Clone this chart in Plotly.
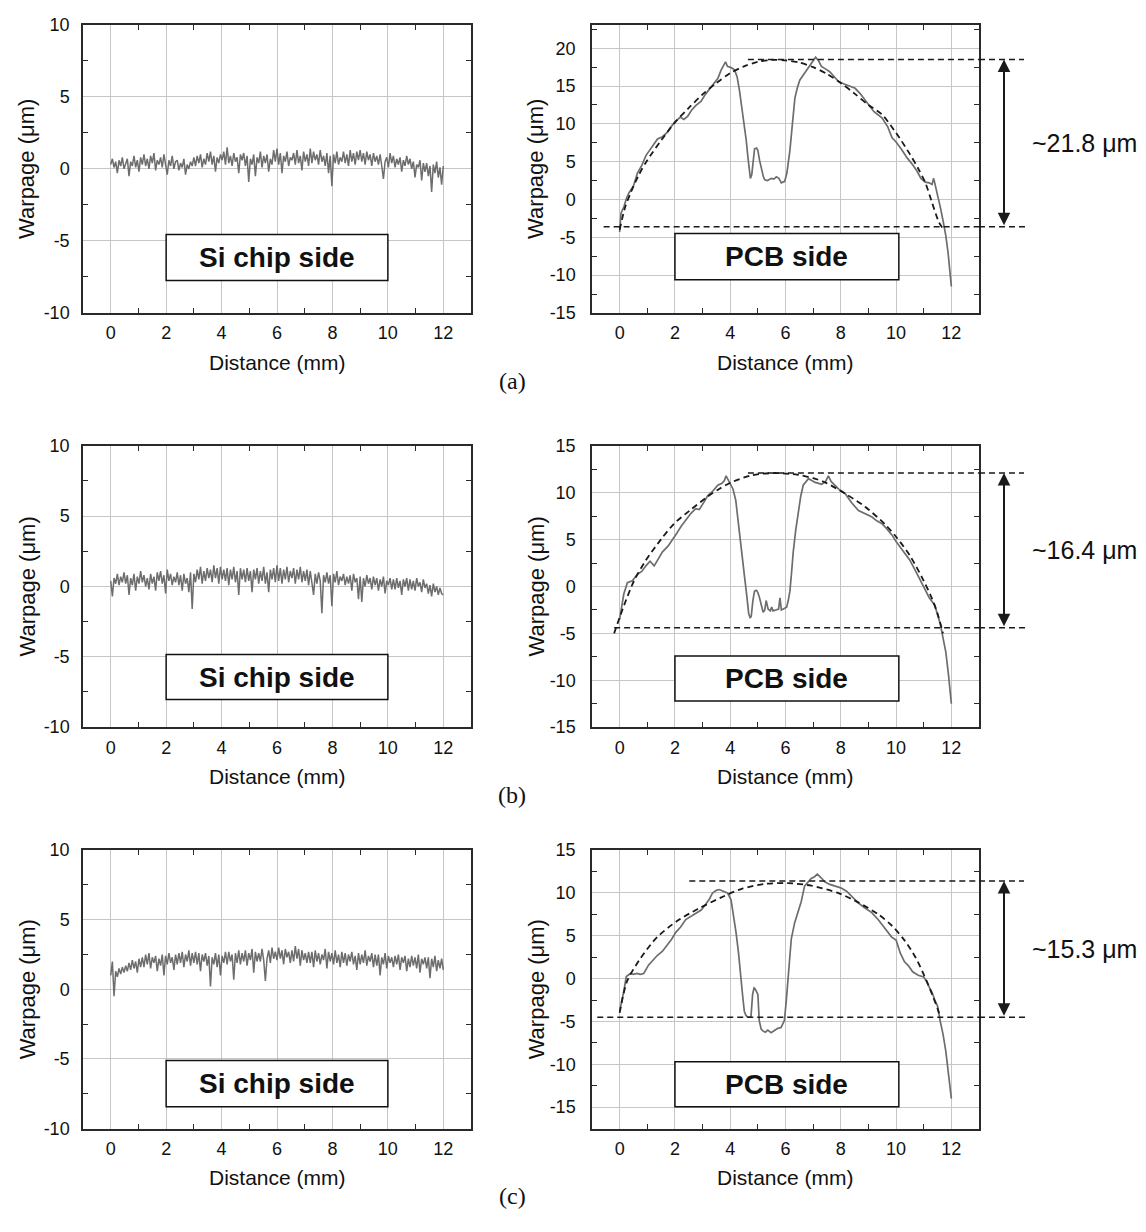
import numpy as np
import plotly.graph_objects as go

W, H = 1146, 1232

# ---------------- data ----------------
# Si chip side profiles: evenly sampled from 0 to 12 mm
si_a = [0.3, 0.7, 0.1, 0.5, -0.3, 0.6, 0.2, 0.8, 0.0, 0.4,
        0.7, -0.5, 0.5, 0.2, 0.9, 0.1, 0.6, -0.2, 0.8, 0.3,
        1.0, 0.2, 0.7, 0.0, 0.9, 0.4, 1.1, -0.1, 0.6, 0.3,
        0.8, 0.1, 1.0, 0.3, -0.4, 0.6, 0.2, 0.9, 0.0, 0.5,
        0.6, -0.1, 0.4, 0.1, 0.7, -0.4, 0.3, 0.0, 0.5, 0.2,
        0.8, 0.2, 0.9, 0.4, 1.0, 0.1, 0.7, 0.3, 1.1, 0.5,
        1.2, 0.3, 0.9, -0.2, 0.8, 0.4, 1.0, 0.6, 1.2, 0.3,
        1.5, 0.4, 0.9, 0.2, 1.1, 0.5, 0.8, -0.3, 1.0, 0.6,
        1.1, 0.2, 0.9, -0.9, 0.7, 0.3, 1.0, -0.5, 0.8, 0.4,
        1.2, 0.1, 0.9, 0.4, 1.0, -0.2, 0.7, 0.3, 1.3, 0.5,
        1.4, 0.3, 1.1, -0.3, 0.9, 0.5, 1.2, 0.2, 0.8, 0.6,
        1.1, 0.3, 1.3, 0.4, 0.9, -0.1, 1.2, 0.5, 1.0, 0.2,
        1.4, 0.4, 1.2, 0.6, 1.0, 0.3, 1.3, 0.5, 0.9, 0.2,
        1.1, -0.3, 0.9, -1.2, 1.0, 0.4, 1.2, 0.3, 0.8, 0.5,
        1.2, 0.4, 1.0, 0.2, 1.3, 0.5, 1.1, 0.3, 1.2, 0.6,
        1.3, 0.5, 1.1, 0.3, 1.2, 0.6, 1.0, 0.2, 1.1, 0.5,
        0.9, 0.3, 1.0, 0.2, -0.7, 0.5, 0.8, 0.1, 1.1, 0.4,
        0.9, 0.1, 0.7, 0.3, 0.8, -0.2, 0.6, 0.2, 0.9, 0.3,
        0.7, 0.0, 0.5, -0.6, 0.3, 0.1, 0.6, -0.8, 0.4, -0.2,
        0.4, -0.5, 0.2, -1.6, 0.3, -0.3, 0.5, -0.6, 0.1, -1.1,
        0.2]

si_b = [0.4, -0.7, 0.6, 0.2, 0.9, 0.1, 0.7, 0.3, 1.0, 0.2,
        0.8, -0.6, 0.6, 0.1, 0.9, -0.3, 0.7, 0.2, 1.1, 0.3,
        0.8, 0.0, 0.6, -0.2, 0.9, 0.2, 0.7, -0.3, 1.0, 0.4,
        1.1, 0.2, 0.8, -0.5, 1.2, 0.4, 0.9, 0.1, 0.7, 0.3,
        1.0, 0.1, 0.8, -0.3, 0.9, 0.2, 0.6, -0.4, 1.0, -1.6,
        0.9, 0.3, 1.2, 0.5, 1.4, 0.2, 1.1, 0.4, 1.3, 0.6,
        1.2, 0.3, 1.5, 0.6, 1.3, 0.2, 1.4, 0.5, 1.2, 0.4,
        1.3, 0.1, 1.2, 0.5, 1.4, 0.3, 1.1, -0.6, 1.3, 0.5,
        1.2, 0.3, 1.3, 0.4, 1.1, -0.4, 1.2, 0.5, 1.3, 0.2,
        1.1, 0.4, 1.4, 0.2, 1.0, -0.4, 1.2, 0.5, 1.3, 0.3,
        1.5, 0.4, 1.3, 0.2, 1.2, 0.5, 1.4, 0.3, 1.1, 0.6,
        1.3, 0.2, 1.2, 0.5, 1.4, 0.3, 1.1, 0.4, 1.2, 0.1,
        1.1, 0.3, -0.6, 0.9, 0.2, 1.0, 0.4, -1.9, 0.8, 0.3,
        1.0, 0.2, 0.8, -1.4, 0.9, 0.3, 1.1, 0.1, 0.7, 0.4,
        0.9, 0.1, 0.7, 0.2, 0.8, -0.3, 0.9, 0.3, 0.6, -0.9,
        0.7, -1.1, 0.6, 0.0, 0.8, 0.2, 0.6, -0.2, 0.7, 0.1,
        0.6, -0.3, 0.5, 0.0, 0.7, -0.5, 0.4, 0.1, 0.6, -0.2,
        0.5, -0.2, 0.6, -0.1, 0.4, -0.6, 0.5, 0.0, 0.6, -0.3,
        0.5, -0.2, 0.4, -0.3, 0.6, 0.0, 0.3, -0.4, 0.5, -0.1,
        0.2, -0.5, 0.1, -0.7, 0.2, -0.4, 0.0, -0.6, -0.1, -0.5,
        -0.6]

si_c = [1.0, 2.0, -0.5, 1.3, 0.9, 1.5, 1.1, 1.6, 1.2, 1.7,
        1.3, 1.9, 1.4, 2.1, 1.5, 2.0, 1.2, 2.2, 1.6, 2.3,
        1.6, 2.5, 1.8, 2.6, 1.5, 2.3, 1.9, 2.4, 1.3, 2.2,
        1.7, 2.5, 1.0, 2.4, 1.8, 2.6, 1.9, 2.3, 1.4, 2.5,
        1.8, 2.6, 1.9, 2.7, 1.6, 2.5, 2.0, 2.8, 1.7, 2.6,
        1.9, 2.7, 1.8, 2.6, 1.3, 2.5, 2.0, 2.6, 1.7, 2.4,
        0.2, 2.3, 1.8, 2.6, 1.6, 2.5, 1.0, 2.4, 1.9, 2.7,
        1.8, 2.7, 2.0, 2.5, 0.7, 2.6, 1.9, 2.8, 1.8, 2.6,
        2.0, 2.8, 1.7, 2.6, 2.1, 2.9, 1.2, 2.7, 2.0, 2.6,
        2.0, 2.9, 2.1, 0.6, 2.2, 2.8, 1.9, 3.0, 2.2, 2.7,
        2.1, 3.0, 2.2, 2.8, 1.8, 2.9, 2.3, 2.7, 1.9, 2.8,
        2.0, 3.1, 2.2, 2.9, 1.7, 2.8, 2.1, 2.6, 1.9, 2.7,
        1.9, 2.7, 1.6, 2.8, 2.0, 2.6, 1.8, 2.5, 2.1, 2.9,
        1.5, 2.7, 2.0, 2.6, 1.8, 2.8, 1.9, 2.5, 1.6, 2.7,
        1.9, 2.6, 1.7, 2.5, 2.0, 2.7, 1.8, 2.4, 1.4, 2.6,
        1.8, 2.5, 1.9, 2.8, 1.7, 2.4, 2.0, 2.6, 1.6, 2.5,
        1.7, 2.5, 1.0, 2.3, 1.8, 2.6, 1.5, 2.4, 1.9, 2.3,
        1.6, 2.4, 1.8, 2.5, 1.4, 2.3, 1.9, 2.4, 1.3, 2.2,
        1.6, 2.4, 1.7, 2.3, 1.5, 2.5, 1.2, 2.2, 1.8, 2.3,
        1.5, 2.3, 0.8, 2.2, 1.6, 2.4, 1.3, 2.1, 1.5, 2.2,
        1.4]

# PCB side profiles
pcb_a_x = [0.0, 0.05, 0.16, 0.25, 0.34, 0.5, 0.64, 0.8, 0.95, 1.1,
           1.25, 1.37, 1.55, 1.73, 1.9, 2.04, 2.2, 2.32, 2.46, 2.6,
           2.75, 2.95, 3.1, 3.25, 3.43, 3.55, 3.67, 3.75, 3.83, 3.9,
           3.97, 4.05, 4.16, 4.25, 4.34, 4.43, 4.52, 4.58, 4.64, 4.7,
           4.73, 4.78, 4.82, 4.88, 4.95, 5.0, 5.06, 5.13, 5.2, 5.25,
           5.35, 5.49, 5.58, 5.67, 5.76, 5.85, 5.97, 6.05, 6.1, 6.16,
           6.25, 6.34, 6.43, 6.52, 6.65, 6.83, 6.95, 7.09, 7.2, 7.3,
           7.43, 7.6, 7.75, 7.92, 8.1, 8.3, 8.52, 8.7, 9.0, 9.2,
           9.49, 9.7, 9.85, 10.0, 10.2, 10.4, 10.6, 10.75, 10.9, 11.06,
           11.2, 11.3, 11.36, 11.42, 11.5, 11.6, 11.7, 11.8, 11.88, 11.95,
           12.0]
pcb_a_y = [-4.3, -1.8, -0.9, 0.2, 0.9, 1.8, 3.45, 4.5, 5.8, 6.6,
           7.4, 8.0, 8.3, 8.9, 9.8, 10.4, 10.9, 10.6, 11.0, 11.8,
           12.4, 13.0, 13.9, 14.6, 15.6, 16.0, 17.1, 17.6, 18.2, 17.6,
           17.5, 17.4, 17.1, 16.2, 14.3, 12.0, 10.0, 7.8, 5.6, 3.6,
           2.8, 3.3, 4.8, 6.7, 6.8, 6.5, 5.2, 3.9, 3.0, 2.6,
           2.5, 2.8, 2.7, 3.0, 2.8, 2.2, 2.4, 3.5, 4.8, 6.5,
           10.0, 13.4, 14.8, 15.8, 16.5, 17.5, 18.0, 18.8, 18.3, 17.6,
           17.3, 16.9, 16.3, 15.6, 15.3, 15.0, 14.7, 14.0, 12.5, 11.6,
           10.8, 9.6, 8.2, 7.6, 6.6, 5.5, 4.6, 3.8, 2.8, 2.3,
           2.2, 2.0, 2.8, 1.9, 0.5, -1.0, -2.8, -4.8, -7.0, -9.5,
           -11.5]
fit_a_x = [0.0, 0.2, 0.4, 0.7, 1.0, 1.5, 2.0, 2.5, 3.0, 3.5, 4.0, 4.5, 5.0, 5.5,
           6.0, 6.5, 7.0, 7.5, 8.0, 8.5, 9.0, 9.5, 10.0, 10.5, 10.8, 11.06, 11.3,
           11.55, 11.67]
fit_a_y = [-4.0, -1.0, 0.9, 3.3, 5.2, 7.8, 10.2, 12.1, 13.9, 15.4, 16.7, 17.6, 18.2,
           18.45, 18.4, 18.1, 17.5, 16.6, 15.4, 14.0, 12.5, 11.2, 8.8, 6.0, 4.1, 2.2,
           -0.4, -3.0, -3.7]

pcb_b_x = [0.0, 0.06, 0.15, 0.28, 0.46, 0.64, 0.8, 0.95, 1.1, 1.25,
           1.4, 1.55, 1.75, 1.92, 2.05, 2.22, 2.4, 2.58, 2.75, 2.88,
           3.05, 3.19, 3.35, 3.55, 3.7, 3.79, 3.85, 3.92, 3.97, 4.1,
           4.2, 4.28, 4.37, 4.46, 4.52, 4.58, 4.63, 4.67, 4.72, 4.76,
           4.82, 4.88, 4.95, 5.0, 5.06, 5.13, 5.19, 5.25, 5.3, 5.37,
           5.45, 5.5, 5.55, 5.65, 5.75, 5.8, 5.85, 5.92, 6.04, 6.1,
           6.16, 6.22, 6.28, 6.37, 6.46, 6.55, 6.64, 6.83, 6.95, 7.07,
           7.2, 7.31, 7.45, 7.55, 7.65, 7.79, 7.95, 8.16, 8.4, 8.64,
           8.9, 9.13, 9.3, 9.49, 9.65, 9.85, 10.0, 10.25, 10.5, 10.75,
           11.0, 11.2, 11.4, 11.5, 11.6, 11.7, 11.8, 11.9, 12.0]
pcb_b_y = [-3.5, -2.2, -0.8, 0.4, 0.6, 1.3, 1.6, 2.2, 2.7, 2.2,
           2.9, 3.7, 4.3, 5.0, 5.6, 6.4, 7.1, 7.8, 8.3, 8.2,
           9.0, 9.7, 10.1, 10.8, 11.0, 11.3, 11.8, 11.4, 11.1, 10.4,
           9.2, 7.3, 5.0, 3.0, 1.0, -0.5, -1.8, -2.9, -3.3, -3.2,
           -1.5, -0.5, -0.4, -0.65, -1.2, -1.9, -2.75, -2.5, -1.5, -2.4,
           -2.6, -2.2, -2.6, -2.5, -2.4, -1.2, -2.5, -2.4, -2.2, -1.5,
           -0.5, 1.5, 3.7, 6.0, 8.1, 9.6, 10.8, 11.5, 11.3, 11.1,
           11.0, 10.9, 11.2, 11.8, 11.2, 10.8, 10.3, 9.9, 8.9, 8.1,
           7.7, 7.4, 7.0, 6.7, 6.2, 5.5, 4.8, 3.8, 2.8, 1.4,
           0.0, -1.2, -2.0, -3.0, -4.0, -5.5, -7.0, -9.5, -12.5]
fit_b_x = [-0.2, 0.16, 0.52, 0.95, 1.49, 1.97, 2.58, 3.19, 3.6, 4.04, 4.76, 5.61,
           6.46, 7.0, 7.43, 8.16, 8.88, 9.61, 10.0, 10.5, 11.0, 11.3, 11.5, 11.7]
fit_b_y = [-5.0, -2.0, 0.6, 2.8, 5.0, 6.7, 8.2, 9.6, 10.4, 11.1, 11.85, 12.1,
           11.9, 11.55, 11.1, 9.9, 8.5, 6.6, 5.3, 3.3, 0.6, -1.3, -2.9, -5.0]

pcb_c_x = [0.0, 0.08, 0.15, 0.24, 0.39, 0.5, 0.63, 0.75, 0.87, 1.05,
           1.2, 1.36, 1.55, 1.72, 1.88, 2.03, 2.2, 2.39, 2.6, 2.81,
           2.95, 3.12, 3.25, 3.36, 3.5, 3.6, 3.75, 3.9, 4.03, 4.12,
           4.21, 4.3, 4.39, 4.45, 4.51, 4.57, 4.63, 4.75, 4.81, 4.86,
           4.9, 4.95, 5.0, 5.05, 5.12, 5.18, 5.27, 5.36, 5.48, 5.6,
           5.72, 5.84, 5.96, 6.03, 6.09, 6.15, 6.21, 6.33, 6.45, 6.57,
           6.69, 6.81, 6.93, 7.05, 7.15, 7.28, 7.42, 7.6, 7.78, 8.0,
           8.21, 8.4, 8.63, 8.85, 9.12, 9.35, 9.6, 9.84, 10.0, 10.15,
           10.3, 10.45, 10.6, 10.8, 11.0, 11.1, 11.2, 11.3, 11.4, 11.5,
           11.6, 11.7, 11.8, 11.9, 12.0]
pcb_c_y = [-3.8, -2.6, -1.5, 0.25, 0.6, 0.5, 0.6, 0.5, 0.6, 1.6,
           2.1, 2.7, 3.2, 3.9, 4.6, 5.4, 6.0, 6.9, 7.3, 7.7,
           8.0, 8.7, 9.3, 10.0, 10.3, 10.4, 10.2, 10.0, 9.2, 7.5,
           5.4, 3.0, 0.45, -2.0, -3.8, -4.3, -4.5, -4.5, -1.85, -1.1,
           -1.2, -1.5, -1.85, -4.9, -5.9, -6.1, -6.25, -6.0, -6.3, -6.05,
           -5.8, -5.7, -4.9, -2.5, -0.3, 2.5, 4.65, 6.5, 7.7, 9.0,
           10.8, 11.2, 11.7, 11.9, 12.2, 11.8, 11.3, 11.0, 10.8, 10.6,
           10.2, 9.6, 8.85, 8.3, 7.7, 6.9, 5.8, 4.85, 4.5, 3.0,
           2.0, 1.5, 0.8, 0.4, 0.2, -0.3, -1.0, -1.6, -2.5, -3.2,
           -5.0, -6.5, -8.5, -11.0, -14.0]
fit_c_x = [0.0, 0.27, 0.75, 1.36, 2.09, 2.81, 3.66, 4.39, 5.24, 6.09, 6.93, 7.9,
           8.63, 9.36, 9.84, 10.3, 10.7, 11.0, 11.3, 11.5, 11.6]
fit_c_y = [-4.0, -0.3, 2.35, 4.85, 6.75, 8.1, 9.45, 10.45, 11.05, 11.15, 10.85, 10.0,
           8.9, 7.5, 6.2, 4.5, 2.5, 0.5, -1.8, -3.5, -4.5]

# reference lines: (top level, bottom level), start (mm) of each dashed line
ref_top = [18.5, 12.1, 11.4]
ref_bot = [-3.6, -4.4, -4.5]
ref_top_start = [4.64, 4.64, 2.52]
ref_bot_start = [-0.58, -0.2, -0.81]
warp_labels = ["~21.8 \u03bcm", "~16.4 \u03bcm", "~15.3 \u03bcm"]
panel_labels = ["(a)", "(b)", "(c)"]
x_ticks = [0, 2, 4, 6, 8, 10, 12]
y_ticks_si = [-10, -5, 0, 5, 10]
y_ticks_pcb = [[-15, -10, -5, 0, 5, 10, 15, 20], [-15, -10, -5, 0, 5, 10, 15],
               [-15, -10, -5, 0, 5, 10, 15]]

si_series = [si_a, si_b, si_c]
pcb_series = [(pcb_a_x, pcb_a_y), (pcb_b_x, pcb_b_y), (pcb_c_x, pcb_c_y)]
fit_series = [(fit_a_x, fit_a_y), (fit_b_x, fit_b_y), (fit_c_x, fit_c_y)]

# ---------------- layout geometry (pixels) ----------------
def PX(p):
    return p / W

def PY(p):
    return 1 - p / H

row_top = [15, 443, 854]
row_bot = [308, 729, 1137]
col_l = [83, 592]
col_r = [471, 979]
right_yrange = [[-15, 23.1], [-15, 15], [-17.5, 15]]
XR = [-1, 13]

SANS = "Liberation Sans, Arial, sans-serif"
SERIF = "Liberation Serif, Times New Roman, serif"
AX = "#2a2a2a"
GRID = "#c6c6c6"
TRACE = "#6d6d6d"

fig = go.Figure()
shapes = []
annotations = []


def axis_common(dom):
    return dict(
        domain=dom, showline=True, linecolor=AX, linewidth=1.5, mirror="ticks",
        ticks="inside", ticklen=5, tickwidth=1.2, tickcolor=GRID,
        showgrid=True, gridcolor=GRID, gridwidth=1.4, zeroline=False,
        tickfont=dict(family=SANS, size=18, color="#111"),
    )


for r in range(3):
    for c in range(2):
        idx = r * 2 + c + 1
        xn = "x" if idx == 1 else f"x{idx}"
        yn = "y" if idx == 1 else f"y{idx}"
        xdom = [PX(col_l[c]), PX(col_r[c])]
        ydom = [PY(row_bot[r]), PY(row_top[r])]
        xa = axis_common(xdom)
        xa.update(range=XR, tickvals=x_ticks, ticktext=[str(v) for v in x_ticks],
                  anchor=yn, ticklabelstandoff=3,
                  minor=dict(dtick=1, tick0=0, ticks="inside", ticklen=5,
                             tickwidth=1.2, tickcolor=AX, showgrid=False))
        ya = axis_common(ydom)
        yr = [-10, 10] if c == 0 else right_yrange[r]
        yt = y_ticks_si if c == 0 else y_ticks_pcb[r]
        ya.update(range=yr, tickvals=yt, ticktext=[str(v) for v in yt], anchor=xn,
                  ticklabelstandoff=8 if c == 0 else 11,
                  minor=dict(dtick=2.5, tick0=0, ticks="inside", ticklen=5,
                             tickwidth=1.2, tickcolor=AX, showgrid=False))
        fig.update_layout(**{("xaxis" if idx == 1 else f"xaxis{idx}"): xa,
                             ("yaxis" if idx == 1 else f"yaxis{idx}"): ya})

        if c == 0:
            ys = si_series[r]
            xs = np.linspace(0, 12, len(ys))
            fig.add_trace(go.Scatter(x=xs, y=ys, mode="lines", xaxis=xn, yaxis=yn,
                                     line=dict(color=TRACE, width=1.5),
                                     showlegend=False, hoverinfo="skip"))
            bx0, bx1 = 2.0, 10.0
            by = [(-4.55, -7.75), (-4.83, -8.04), (-5.12, -8.44)][r]
            label = "Si chip side"
        else:
            px_, py_ = pcb_series[r]
            fx, fy = fit_series[r]
            fig.add_trace(go.Scatter(x=px_, y=py_, mode="lines", xaxis=xn, yaxis=yn,
                                     line=dict(color=TRACE, width=1.7),
                                     showlegend=False, hoverinfo="skip"))
            fig.add_trace(go.Scatter(x=fx, y=fy, mode="lines", xaxis=xn, yaxis=yn,
                                     line=dict(color="#1a1a1a", width=1.8, dash="6px,4px",
                                               shape="spline", smoothing=0.8),
                                     showlegend=False, hoverinfo="skip"))
            bx0, bx1 = 2.0, 10.1
            by = [(-4.5, -10.6), (-7.4, -12.2), (-9.7, -14.96)][r]
            label = "PCB side"

            for lvl, st, xend in ((ref_top[r], ref_top_start[r], 1024),
                                  (ref_bot[r], ref_bot_start[r], 1028)):
                shapes.append(dict(type="line", xref=xn, yref=yn, x0=st, x1=XR[1],
                                   y0=lvl, y1=lvl, layer="above",
                                   line=dict(color="#1a1a1a", width=1.6, dash="6px,4px")))
                shapes.append(dict(type="line", xref="paper", yref=yn,
                                   x0=PX(col_r[1]), x1=PX(xend), y0=lvl, y1=lvl,
                                   layer="above",
                                   line=dict(color="#1a1a1a", width=1.6, dash="6px,4px")))
            annotations.append(dict(x=PX(1004), xref="paper", y=ref_top[r], yref=yn,
                                    ax=0, axref="pixel", ay=ref_bot[r], ayref=yn,
                                    text="", showarrow=True, arrowside="end+start",
                                    arrowhead=2, startarrowhead=2, arrowsize=1.25,
                                    startarrowsize=1.25, arrowwidth=2, arrowcolor="#1a1a1a",
                                    standoff=0, startstandoff=0))
            annotations.append(dict(x=PX(1030), xref="paper", xanchor="left",
                                    y=(ref_top[r] + ref_bot[r]) / 2, yref=yn,
                                    yanchor="middle", text=warp_labels[r], showarrow=False,
                                    font=dict(family=SANS, size=25, color="#111")))

        shapes.append(dict(type="rect", xref=xn, yref=yn, x0=bx0, x1=bx1,
                           y0=by[0], y1=by[1], fillcolor="white", layer="above",
                           line=dict(color="#111", width=1.5)))
        annotations.append(dict(x=(bx0 + bx1) / 2, y=(by[0] + by[1]) / 2, xref=xn, yref=yn,
                                text=f"<b>{label}</b>", showarrow=False,
                                xanchor="center", yanchor="middle",
                                font=dict(family=SANS, size=28, color="#111")))
        annotations.append(dict(x=PX((col_l[c] + col_r[c]) / 2), y=PY(row_bot[r] + 50),
                                xref="paper", yref="paper", text="Distance (mm)",
                                showarrow=False, xanchor="center", yanchor="middle",
                                font=dict(family=SANS, size=21, color="#111")))
        annotations.append(dict(x=PX(col_l[c] - 56), y=PY((row_top[r] + row_bot[r]) / 2),
                                xref="paper", yref="paper", text="Warpage (\u03bcm)",
                                textangle=-90, showarrow=False, xanchor="center",
                                yanchor="middle",
                                font=dict(family=SANS, size=22, color="#111")))
    annotations.append(dict(x=PX(512), y=PY(row_bot[r] + 69), xref="paper", yref="paper",
                            text=panel_labels[r], showarrow=False,
                            xanchor="center", yanchor="middle",
                            font=dict(family=SERIF, size=24, color="#111")))

fig.update_layout(width=W, height=H, margin=dict(l=0, r=0, t=0, b=0),
                  paper_bgcolor="white", plot_bgcolor="white",
                  shapes=shapes, annotations=annotations, showlegend=False)

post = (
    "var gd=document.getElementById('{plot_id}');"
    "var de=document.documentElement, b=document.body;"
    "[de,b].forEach(function(e){e.style.margin='0';e.style.padding='0';"
    "e.style.overflow='hidden';e.style.height='1232px';e.style.width='1146px';});"
    "gd.style.position='absolute';gd.style.left='0px';gd.style.top='0px';"
)
fig.write_html("out.html", config={"displayModeBar": False, "responsive": False},
               post_script=post)
